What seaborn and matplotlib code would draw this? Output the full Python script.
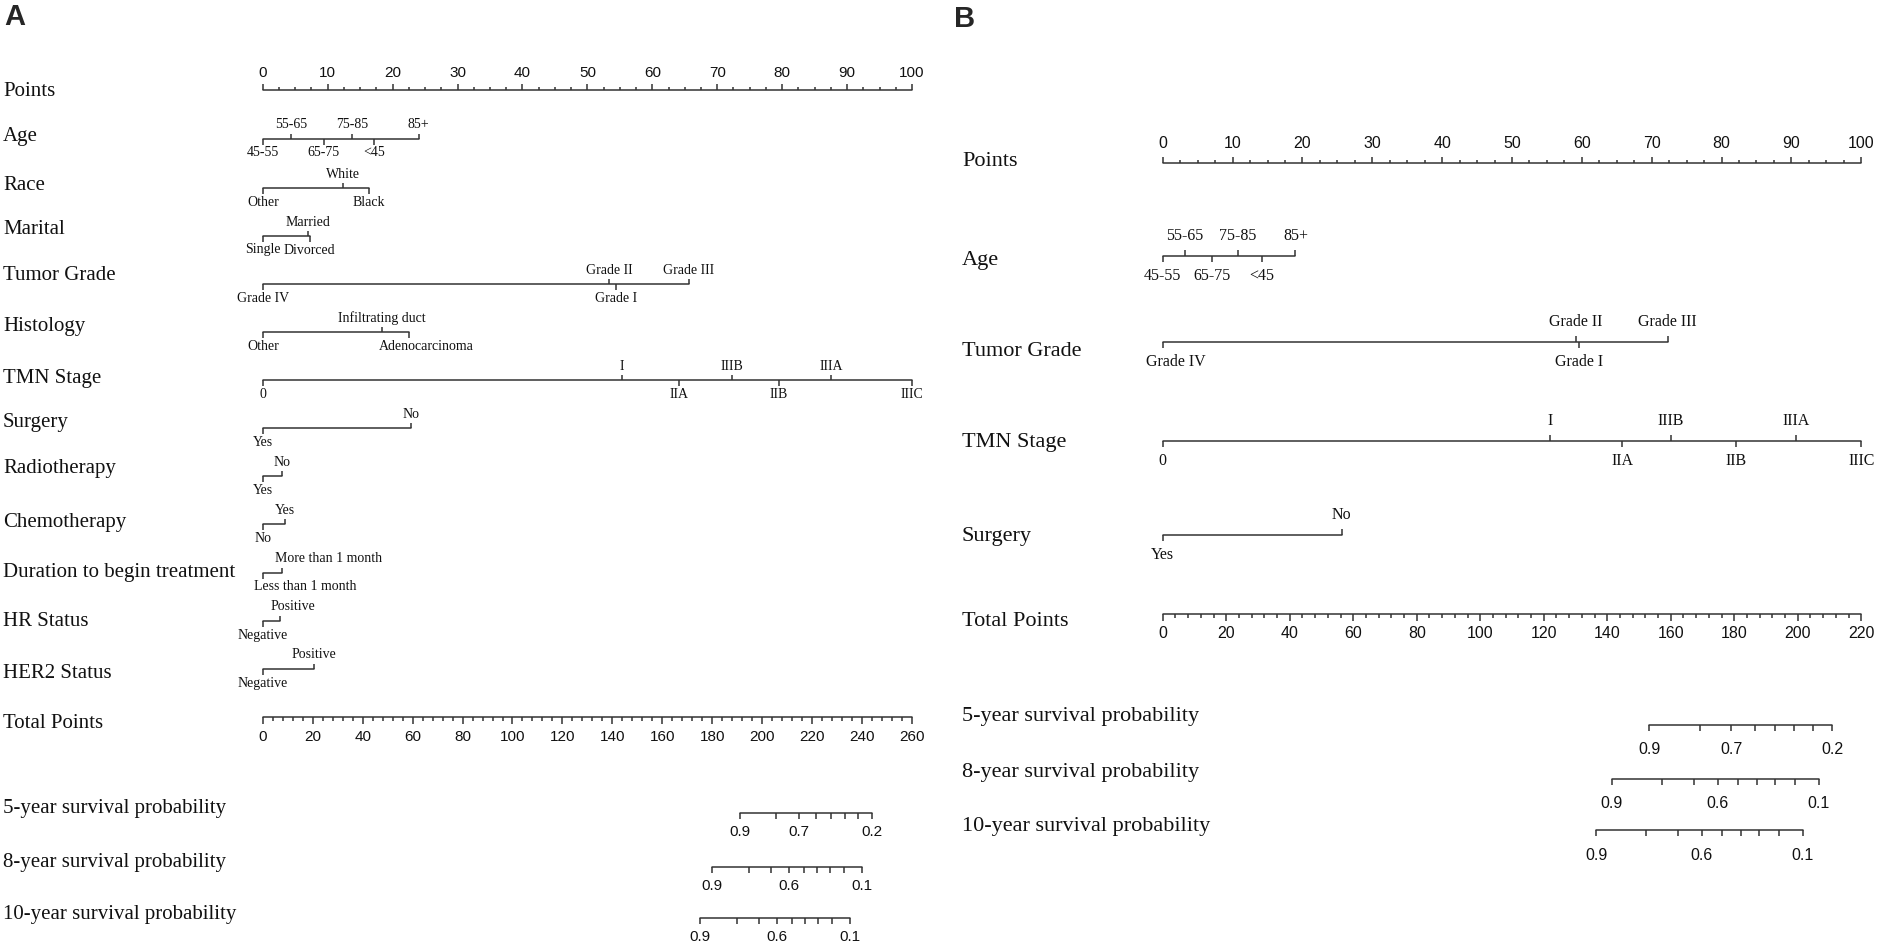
import matplotlib
matplotlib.use("Agg")
import matplotlib.pyplot as plt
import numpy as np
import pandas as pd
import seaborn as sns

W, H, DPI = 1883, 943, 100
SERIF = ["Liberation Serif", "DejaVu Serif"]
SANS = ["Liberation Sans", "DejaVu Sans"]
LINE = "#333333"
LW = 1.1

# ---- values (points for each level) ----
age_levels = ["45-55", "55-65", "65-75", "75-85", "<45", "85+"]
age_pts_a = [0, 4.3, 9.4, 13.8, 17.2, 24.0]
age_pts_b = [0, 3.2, 7.1, 10.7, 14.2, 19.0]
race_levels = ["Other", "White", "Black"]
race_pts_a = [0, 12.3, 16.3]
marital_levels = ["Single", "Married", "Divorced"]
marital_pts_a = [0, 7.0, 7.2]
grade_levels = ["Grade IV", "Grade II", "Grade I", "Grade III"]
grade_pts_a = [0, 53.4, 54.4, 65.6]
grade_pts_b = [0, 59.1, 59.6, 72.3]
histology_levels = ["Other", "Infiltrating duct", "Adenocarcinoma"]
histology_pts_a = [0, 18.4, 22.5]
tmn_levels = ["0", "I", "IIA", "IIIB", "IIB", "IIIA", "IIIC"]
tmn_pts_a = [0, 55.3, 64.1, 72.2, 79.5, 87.6, 100]
tmn_pts_b = [0, 55.5, 65.8, 72.7, 82.1, 90.7, 100]
surgery_levels = ["Yes", "No"]
surgery_pts_a = [0, 22.9]
surgery_pts_b = [0, 25.6]
radio_levels = ["Yes", "No"]
radio_pts_a = [0, 2.9]
chemo_levels = ["No", "Yes"]
chemo_pts_a = [0, 3.4]
duration_levels = ["Less than 1 month", "More than 1 month"]
duration_pts_a = [0, 2.9]
hr_levels = ["Negative", "Positive"]
hr_pts_a = [0, 2.7]
her2_levels = ["Negative", "Positive"]
her2_pts_a = [0, 7.9]

total_max_a = 260
total_max_b = 220

# survival probability scales: total points where each probability sits
probs_5 = [0.9, 0.8, 0.7, 0.6, 0.5, 0.4, 0.3, 0.2]
probs_8_10 = [0.9, 0.8, 0.7, 0.6, 0.5, 0.4, 0.3, 0.2, 0.1]
shown_5 = [0.9, 0.7, 0.2]
shown_8_10 = [0.9, 0.6, 0.1]
surv5_tp_a = [191.0, 205.6, 214.7, 221.6, 227.6, 233.0, 238.3, 243.9]
surv8_tp_a = [180.0, 194.6, 203.7, 210.6, 216.6, 222.0, 227.3, 232.9, 239.8]
surv10_tp_a = [175.2, 189.8, 198.9, 205.8, 211.8, 217.2, 222.5, 228.1, 235.0]
surv5_tp_b = [153.3, 169.1, 179.0, 186.6, 193.0, 198.9, 204.7, 210.8]
surv8_tp_b = [141.5, 157.3, 167.2, 174.8, 181.2, 187.1, 192.9, 199.0, 206.6]
surv10_tp_b = [136.5, 152.3, 162.2, 169.8, 176.2, 182.1, 187.9, 194.0, 201.6]


def new_panel(fig, left_px, right_px, zero_px, hundred_px):
    scale = (hundred_px - zero_px) / 100.0
    ax = fig.add_axes([left_px / W, 0, (right_px - left_px) / W, 1])
    return ax, scale, ((left_px - zero_px) / scale, (right_px - zero_px) / scale)


def draw_nomogram(ax, scale, xlim, zero_px, label_px, st, points_row,
                  factor_rows, total_row, surv_rows, nudges):
    segs, ticks = [], []
    lab_x = (label_px - zero_px) / scale
    tmax = total_row[3]

    def row_label(text, y):
        ax.text(lab_x, y, text, ha="left", va="center",
                fontsize=st["row_fs"], family=SERIF, color="#111111")

    def num_label(x, y, text):
        ax.text(x, y, text, ha="center", va="center",
                fontsize=st["num_fs"], family=SANS, color="#111111")

    # Points scale (ticks up, labels above)
    y, ylab, ynum = points_row
    row_label("Points", ylab)
    segs += [("Points", 0, y), ("Points", 100, y)]
    for v in np.arange(0, 100.01, 2.5):
        major = np.isclose(v % 10, 0)
        ticks.append((v, y, y - (st["major"] if major else st["minor"])))
        if major:
            num_label(v, ynum, f"{v:g}")

    # predictors
    for name, levels, pts, y, ylab in factor_rows:
        row_label(name, ylab)
        segs += [(name, min(pts), y), (name, max(pts), y)]
        order = sorted(range(len(pts)), key=lambda i: pts[i])
        for rank, i in enumerate(order):
            sign = -1 if rank % 2 == 1 else 1
            ticks.append((pts[i], y, y + sign * st["ftick"]))
            ha, dx = nudges.get((name, levels[i]), ("center", 0))
            ax.text(pts[i] + dx / scale, y + sign * st["voff"], levels[i],
                    ha=ha, va="center", fontsize=st["val_fs"], family=SERIF,
                    color="#111111")

    # Total points scale (ticks down, labels below)
    y, ylab, ynum, _ = total_row
    row_label("Total Points", ylab)
    segs += [("Total", 0, y), ("Total", 100, y)]
    for v in np.arange(0, tmax + 0.01, 4):
        x = v * 100.0 / tmax
        major = np.isclose(v % 20, 0)
        ticks.append((x, y, y + (st["tmajor"] if major else st["tminor"])))
        if major:
            num_label(x, ynum, f"{v:g}")

    # survival probability scales
    for title, probs, tps, shown, y, ylab, ynum in surv_rows:
        row_label(title, ylab)
        xs = [t * 100.0 / tmax for t in tps]
        segs += [(title, min(xs), y), (title, max(xs), y)]
        for p, x in zip(probs, xs):
            ticks.append((x, y, y + st["stick"]))
            if p in shown:
                num_label(x, ynum, f"{p:g}")

    seg_df = pd.DataFrame(segs, columns=["row", "x", "y"])
    sns.lineplot(data=seg_df, x="x", y="y", units="row", estimator=None,
                 sort=False, color=LINE, lw=LW, ax=ax, legend=False)
    tdf = pd.DataFrame(ticks, columns=["x", "y0", "y1"])
    ax.vlines(tdf["x"], tdf["y0"], tdf["y1"], color=LINE, lw=LW)

    ax.set_xlim(*xlim)
    ax.set_ylim(H, 0)
    ax.set_axis_off()


sns.set_theme(style="white")
plt.rcParams["font.family"] = SERIF
fig = plt.figure(figsize=(W / DPI, H / DPI), dpi=DPI)

# ---------------- panel A ----------------
ax_a, sc_a, xl_a = new_panel(fig, 0, 941, 262.8, 912.0)
style_a = dict(row_fs=15, val_fs=10, num_fs=11, major=6, minor=3.5,
               ftick=5.5, voff=14, tmajor=6.5, tminor=4, stick=6)
rows_a = [
    ("Age", age_levels, age_pts_a, 139, 137),
    ("Race", race_levels, race_pts_a, 188, 186),
    ("Marital", marital_levels, marital_pts_a, 236, 229),
    ("Tumor Grade", grade_levels, grade_pts_a, 284, 276),
    ("Histology", histology_levels, histology_pts_a, 332, 326),
    ("TMN Stage", tmn_levels, tmn_pts_a, 380, 378),
    ("Surgery", surgery_levels, surgery_pts_a, 428, 422),
    ("Radiotherapy", radio_levels, radio_pts_a, 476, 468),
    ("Chemotherapy", chemo_levels, chemo_pts_a, 524, 523),
    ("Duration to begin treatment", duration_levels, duration_pts_a, 573, 573),
    ("HR Status", hr_levels, hr_pts_a, 621, 622),
    ("HER2 Status", her2_levels, her2_pts_a, 669, 674),
]
nudges_a = {
    ("Histology", "Adenocarcinoma"): ("center", 17),
    ("Duration to begin treatment", "Less than 1 month"): ("left", -9),
    ("Duration to begin treatment", "More than 1 month"): ("left", -7),
    ("HR Status", "Positive"): ("left", -10),
}
surv_a = [
    ("5-year survival probability", probs_5, surv5_tp_a, shown_5, 813, 809, 832),
    ("8-year survival probability", probs_8_10, surv8_tp_a, shown_8_10, 867, 863, 886),
    ("10-year survival probability", probs_8_10, surv10_tp_a, shown_8_10, 918, 914, 937),
]
draw_nomogram(ax_a, sc_a, xl_a, 262.8, 3, style_a, (90, 92, 73), rows_a,
              (717, 724, 737, total_max_a), surv_a, nudges_a)

# ---------------- panel B ----------------
ax_b, sc_b, xl_b = new_panel(fig, 941, W, 1162.8, 1861.2)
style_b = dict(row_fs=16, val_fs=11.5, num_fs=11.5, major=6, minor=3.5,
               ftick=6, voff=20, tmajor=6.5, tminor=4, stick=6)
rows_b = [
    ("Age", age_levels, age_pts_b, 256, 260),
    ("Tumor Grade", grade_levels, grade_pts_b, 342, 352),
    ("TMN Stage", tmn_levels, tmn_pts_b, 441, 443),
    ("Surgery", surgery_levels, surgery_pts_b, 535, 536),
]
nudges_b = {("Tumor Grade", "Grade IV"): ("center", 13)}
surv_b = [
    ("5-year survival probability", probs_5, surv5_tp_b, shown_5, 725, 717, 750),
    ("8-year survival probability", probs_8_10, surv8_tp_b, shown_8_10, 779, 772, 804),
    ("10-year survival probability", probs_8_10, surv10_tp_b, shown_8_10, 830, 826, 855),
]
draw_nomogram(ax_b, sc_b, xl_b, 1162.8, 962, style_b, (163, 162, 144), rows_b,
              (614, 622, 634, total_max_b), surv_b, nudges_b)

fig.text(4 / W, 1 - 3 / H, "A", ha="left", va="top", fontsize=21,
         fontweight="bold", family=SANS)
fig.text(954 / W, 1 - 5 / H, "B", ha="left", va="top", fontsize=21,
         fontweight="bold", family=SANS)

fig.savefig("out.png", dpi=DPI, facecolor="white")
